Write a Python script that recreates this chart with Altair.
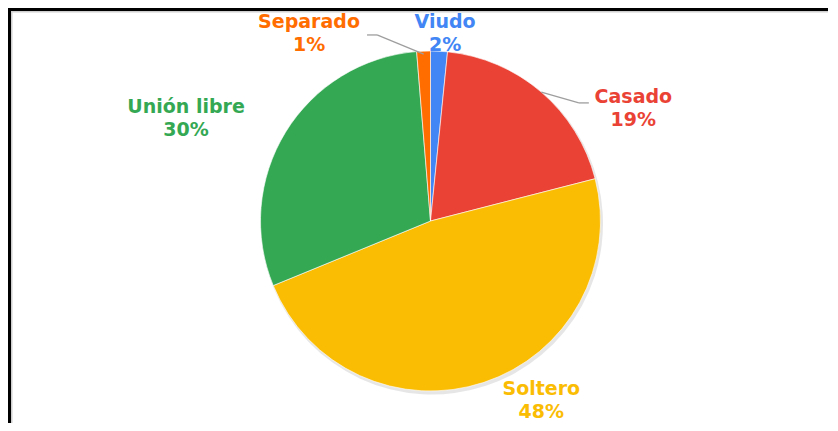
import math
import altair as alt
import pandas as pd

# ---- data ----
categories = ["Viudo", "Casado", "Soltero", "Unión libre", "Separado"]
values = [1.6, 19.4, 47.8, 29.9, 1.3]
pct_labels = ["2%", "19%", "48%", "30%", "1%"]
colors = ["#4285F4", "#EA4335", "#FBBC04", "#34A853", "#FF6D01"]

df = pd.DataFrame({
    "cat": categories,
    "value": values,
    "pct": pct_labels,
    "orden": list(range(len(categories))),
})
total = sum(values)

# ---- layout / style ----
W, H = 822, 415
CX, CY = 422.5, 213
R = 170
TR = 190
FONT = "DejaVu Sans"
label_offsets = {
    "Viudo": (5, 2),
    "Casado": (79, 31.5),
    "Soltero": (51, -1),
    "Unión libre": (-82.5, -3.3),
    "Separado": (-113.7, 2.3),
}
leaders = {
    "Casado": (170, (-54.5, -5.5), (-44.5, -5.5)),
    "Separado": (167, (68, 1.5), (58, 1.5)),
}

theta_scale = alt.Scale(domain=[0, total], range=[0, 2 * math.pi])
color_scale = alt.Scale(domain=categories, range=colors)

base = alt.Chart(df)
frame_src = alt.Chart(pd.DataFrame({"k": [0]}))

layers = []

# frame: top and left edges only, drawn as filled bands
layers.append(frame_src.mark_rect(color="black").encode(
    x=alt.value(0), x2=alt.value(W - 2), y=alt.value(0), y2=alt.value(3)))
layers.append(frame_src.mark_rect(color="black").encode(
    x=alt.value(0), x2=alt.value(3), y=alt.value(0), y2=alt.value(H)))
layers.append(frame_src.mark_rect(color="#cfcfcf").encode(
    x=alt.value(3), x2=alt.value(W - 2), y=alt.value(3), y2=alt.value(4.5)))
layers.append(frame_src.mark_rect(color="#cfcfcf").encode(
    x=alt.value(3), x2=alt.value(4.5), y=alt.value(3), y2=alt.value(H)))

# soft shadow
layers.append(base.mark_arc(x=CX + 1.5, y=CY + 2.5, radius=R + 1, color="#9a9a9a", opacity=0.25).encode(
    theta=alt.Theta("value:Q", stack=True, scale=theta_scale),
    order=alt.Order("orden:Q"),
))

# pie
layers.append(base.mark_arc(x=CX, y=CY, radius=R, stroke="white", strokeWidth=0.6).encode(
    theta=alt.Theta("value:Q", stack=True, scale=theta_scale),
    color=alt.Color("cat:N", scale=color_scale, legend=None),
    order=alt.Order("orden:Q"),
))

mids = base.transform_window(
    cum="sum(value)", sort=[alt.SortField("orden")], frame=[None, 0]
).transform_calculate(mid="datum.cum - datum.value / 2")

for cat, (rs, (ex, ey), (fx, fy)) in leaders.items():
    dx, dy = label_offsets[cat]
    a = f"(datum.mid / {total} * 2 * PI)"
    ax = f"({CX} + {TR} * sin({a}) + {dx})"
    ay = f"({CY} - {TR} * cos({a}) + {dy})"
    sub = mids.transform_filter(alt.datum.cat == cat).transform_calculate(
        x1=f"{CX} + {rs} * sin({a})",
        y1=f"{CY} - {rs} * cos({a})",
        x2=f"{ax} + {ex}",
        y2=f"{ay} + {ey}",
        x3=f"{ax} + {fx}",
        y3=f"{ay} + {fy}",
    )
    layers.append(sub.mark_rule(color="#9e9e9e", strokeWidth=1.3).encode(
        x=alt.X("x1:Q", scale=None, axis=None), y=alt.Y("y1:Q", scale=None, axis=None),
        x2="x2:Q", y2="y2:Q"))
    layers.append(sub.mark_rule(color="#9e9e9e", strokeWidth=1.3).encode(
        x=alt.X("x2:Q", scale=None, axis=None), y=alt.Y("y2:Q", scale=None, axis=None),
        x2="x3:Q", y2="y3:Q"))

for i, cat in enumerate(categories):
    dx, dy = label_offsets[cat]
    sub = mids.transform_filter(alt.datum.cat == cat)
    for field, off in (("cat", -11.5), ("pct", 11.5)):
        layers.append(sub.mark_text(
            x=CX, y=CY, radius=TR, dx=dx, dy=dy + off,
            font=FONT, fontSize=19, fontWeight="bold", color=colors[i],
            align="center", baseline="middle",
        ).encode(
            theta=alt.Theta("mid:Q", stack=None, scale=theta_scale),
            text=alt.Text(f"{field}:N"),
        ))

chart = alt.layer(*layers).properties(
    width=W, height=H, padding=0,
    autosize=alt.AutoSizeParams(type="none"),
    background="white",
).configure_view(stroke=None)

chart.save("out.html", embed_options={"renderer": "svg", "actions": False})
